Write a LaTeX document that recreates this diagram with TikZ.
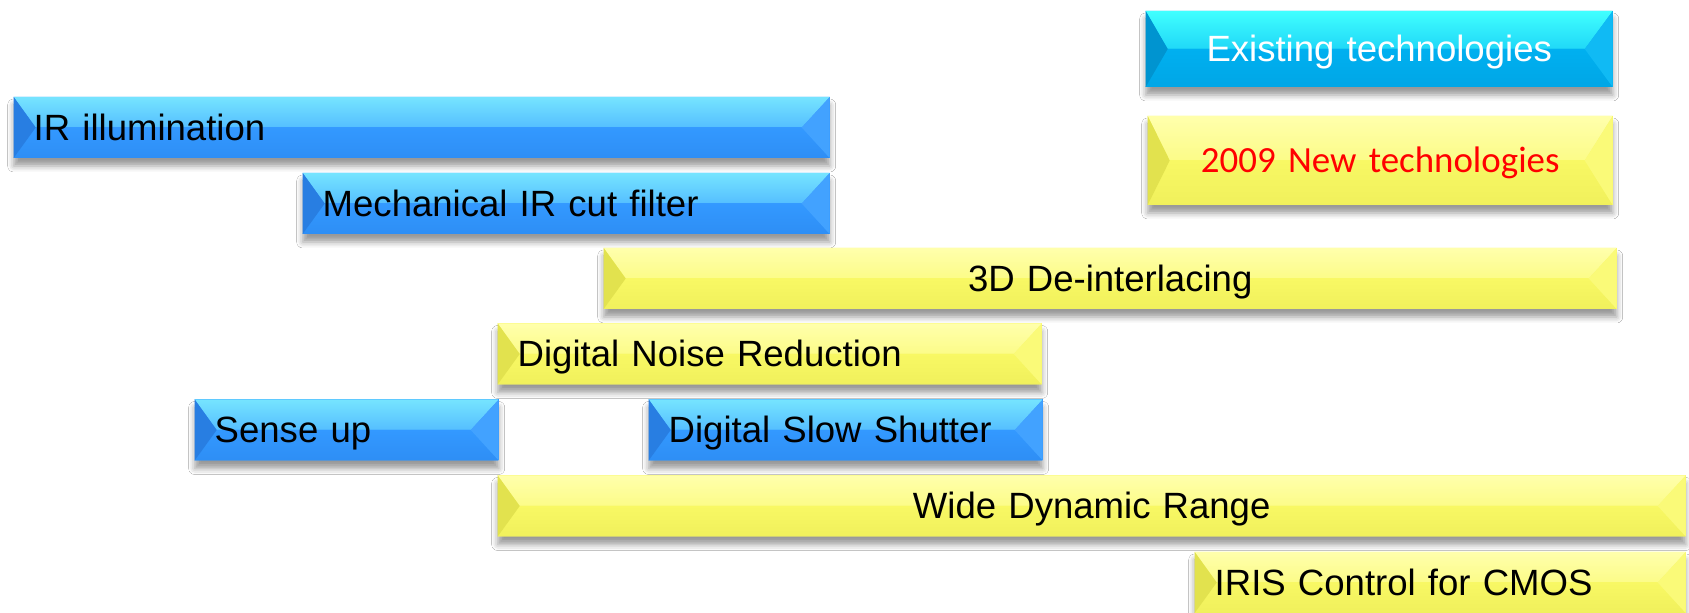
\documentclass[tikz,border=0pt]{standalone}
\usepackage{fontspec}
\setmainfont{Liberation Sans}
\newfontfamily\carlito{Carlito}
\usetikzlibrary{shadows.blur}
\definecolor{barblue}{RGB}{51,153,255}
\definecolor{barbluetop}{RGB}{118,228,255}
\definecolor{barbluelow}{RGB}{46,142,245}
\definecolor{barblueleft}{RGB}{40,126,226}
\definecolor{barblueright}{RGB}{66,162,255}
\definecolor{barsky}{RGB}{0,176,240}
\definecolor{barskytop}{RGB}{64,255,255}
\definecolor{barskylow}{RGB}{0,166,230}
\definecolor{barskyleft}{RGB}{0,148,208}
\definecolor{barskyright}{RGB}{16,186,244}
\definecolor{baryellow}{RGB}{248,248,100}
\definecolor{baryellowtop}{RGB}{255,255,172}
\definecolor{baryellowlow}{RGB}{240,240,92}
\definecolor{baryellowleft}{RGB}{226,226,78}
\definecolor{baryellowright}{RGB}{250,250,120}
\tikzset{
	bevel/.style={fill=#1, path picture={
		\fill[top color=#1top, bottom color=#1] (path picture bounding box.north west) -- (path picture bounding box.north east) -- ([xshift=-2.8mm]path picture bounding box.east) -- ([xshift=2.2mm]path picture bounding box.west) -- cycle;
		\fill[top color=#1, bottom color=#1low] (path picture bounding box.south west) -- (path picture bounding box.south east) -- ([xshift=-2.8mm]path picture bounding box.east) -- ([xshift=2.2mm]path picture bounding box.west) -- cycle;
		\fill[#1left] (path picture bounding box.north west) -- ([xshift=2.2mm]path picture bounding box.west) -- (path picture bounding box.south west) -- cycle;
		\fill[#1right] (path picture bounding box.north east) -- ([xshift=-2.8mm]path picture bounding box.east) -- (path picture bounding box.south east) -- cycle;
	}},
	techbar/.style={anchor=west, minimum height=6.1mm, inner xsep=2mm, inner ysep=0pt, text height=2.6mm, text depth=0pt, align=left, font=\fontsize{10.4}{12}\selectfont, blur shadow={shadow xshift=0mm, shadow yshift=-0.8mm, shadow blur radius=0.6mm, shadow opacity=40}},
	oldtech/.style={techbar, bevel=barblue},
	newtech/.style={techbar, bevel=baryellow},
}
\begin{document}
\begin{tikzpicture}
	\clip (0,0) rectangle (16.89,6.13);
	\fill[white] (0,0) rectangle (16.89,6.13);
	\node[techbar, bevel=barsky, minimum height=7.6mm, align=center, text width=4.27cm, text=white] (legold) at (11.45,5.64) {Existing technologies};
	\node[techbar, bevel=baryellow, minimum height=8.9mm, align=center, text width=4.25cm, text height=2.4mm, text=red, font=\carlito\fontsize{10.5}{12}\selectfont] (legnew) at (11.47,4.525) {2009 New technologies};
	\node[oldtech, text width=7.76cm] (irillum) at (0.13,4.855) {IR illumination};
	\node[oldtech, text width=4.87cm] (cutfilter) at (3.02,4.095) {Mechanical IR cut filter};
	\node[newtech, align=center, text width=9.73cm] (deinterlace) at (6.03,3.345) {3D De-interlacing};
	\node[newtech, text width=5.04cm] (noisered) at (4.97,2.59) {Digital Noise Reduction};
	\node[oldtech, text width=2.64cm] (senseup) at (1.94,1.83) {Sense up};
	\node[oldtech, text width=3.54cm] (slowshutter) at (6.48,1.83) {Digital Slow Shutter};
	\node[newtech, align=center, text width=11.48cm] (wdr) at (4.97,1.07) {Wide Dynamic Range};
	\node[newtech, text width=4.51cm] (iris) at (11.94,0.305) {IRIS Control for CMOS};
\end{tikzpicture}
\end{document}
